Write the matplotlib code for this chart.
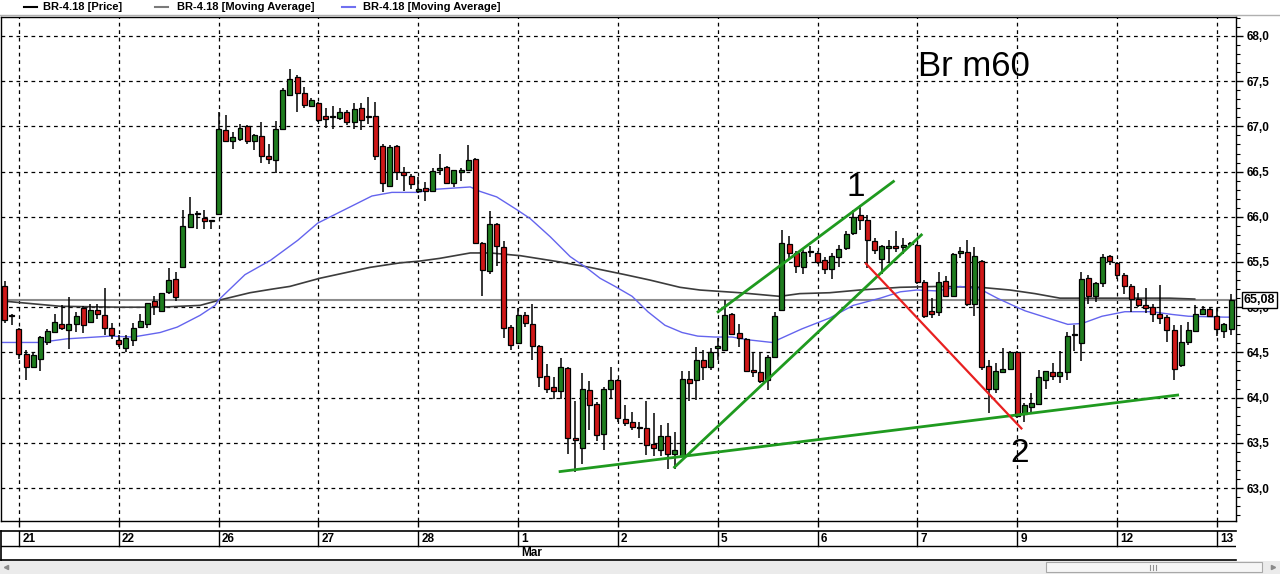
import matplotlib
matplotlib.use("Agg")
import matplotlib.pyplot as plt
from matplotlib.patches import Rectangle
from matplotlib.ticker import MultipleLocator, FuncFormatter, FixedLocator

# ---------------- data (hourly candles, 14 per session) ----------------
opens = [65.23, 64.90, 64.76, 64.48, 64.34, 64.43, 64.62, 64.73, 64.81, 64.75,
         64.81, 64.99, 64.84, 64.97, 64.91, 64.77, 64.64, 64.55, 64.64, 64.78,
         64.81, 65.07, 64.96, 65.17, 65.31, 65.45, 65.89, 66.03, 65.99, 65.95,
         66.03, 66.96, 66.84, 66.86, 67.00, 66.84, 66.89, 66.67, 66.63, 66.97,
         67.35, 67.55, 67.37, 67.23, 67.26, 67.11, 67.10, 67.09, 67.16, 67.05,
         67.20, 67.10, 67.12, 66.78, 66.34, 66.78, 66.50, 66.45, 66.29, 66.32,
         66.29, 66.52, 66.55, 66.37, 66.50, 66.52, 66.64, 65.71, 65.40, 65.92,
         65.67, 64.78, 64.60, 64.91, 64.81, 64.57, 64.24, 64.12, 64.07, 64.33,
         63.55, 63.44, 64.08, 63.93, 63.60, 64.10, 64.20, 63.76, 63.73, 63.68,
         63.66, 63.49, 63.42, 63.58, 63.38, 63.35, 64.21, 64.20, 64.42, 64.34,
         64.55, 64.53, 64.93, 64.72, 64.65, 64.31, 64.28, 64.19, 64.45, 64.97,
         65.70, 65.60, 65.45, 65.61, 65.60, 65.52, 65.42, 65.55, 65.66, 65.82,
         66.02, 65.97, 65.73, 65.53, 65.66, 65.68, 65.67, 65.70, 65.69, 65.28,
         64.96, 64.95, 65.29, 65.12, 65.60, 65.61, 65.03, 65.51, 64.35, 64.09,
         64.28, 64.32, 64.50, 63.82, 63.90, 63.93, 64.20, 64.28, 64.24, 64.28,
         64.69, 64.60, 65.32, 65.12, 65.27, 65.57, 65.49, 65.36, 65.23, 65.09,
         65.02, 65.00, 64.93, 64.89, 64.75, 64.36, 64.61, 64.74, 64.92, 64.98,
         64.90, 64.74, 64.76]
highs = [65.29, 64.93, 64.77, 64.53, 64.50, 64.68, 64.76, 64.92, 65.02, 65.11,
         64.95, 65.01, 65.04, 65.04, 65.21, 64.82, 64.69, 64.69, 64.83, 64.93,
         65.05, 65.12, 65.16, 65.43, 65.39, 66.08, 66.22, 66.06, 66.08, 65.97,
         67.16, 67.13, 66.94, 67.03, 67.02, 66.92, 67.05, 66.81, 67.06, 67.42,
         67.63, 67.57, 67.44, 67.31, 67.27, 67.20, 67.22, 67.20, 67.18, 67.26,
         67.26, 67.32, 67.27, 66.81, 66.79, 66.79, 66.55, 66.47, 66.44, 66.39,
         66.54, 66.69, 66.56, 66.52, 66.54, 66.79, 66.65, 65.72, 66.06, 65.93,
         65.73, 64.80, 64.99, 64.95, 65.04, 64.58, 64.37, 64.23, 64.44, 64.34,
         63.96, 64.27, 64.18, 63.95, 64.12, 64.34, 64.21, 63.92, 63.84, 63.73,
         63.96, 63.83, 63.70, 63.72, 63.62, 64.29, 64.29, 64.56, 64.53, 64.55,
         64.66, 65.08, 64.94, 64.81, 64.66, 64.50, 64.50, 64.47, 64.95, 65.85,
         65.79, 65.62, 65.63, 65.68, 65.62, 65.55, 65.60, 65.69, 65.84, 66.08,
         66.13, 66.02, 65.76, 65.69, 65.74, 65.84, 65.76, 65.72, 65.70, 65.30,
         65.10, 65.39, 65.34, 65.60, 65.67, 65.74, 65.67, 65.52, 64.42, 64.38,
         64.55, 64.52, 64.51, 63.94, 64.05, 64.31, 64.29, 64.38, 64.51, 64.73,
         64.80, 65.39, 65.36, 65.28, 65.59, 65.58, 65.50, 65.38, 65.26, 65.16,
         65.21, 65.04, 65.25, 64.91, 64.80, 64.80, 64.84, 65.02, 65.01, 64.99,
         64.99, 64.83, 65.15]
lows = [64.83, 64.80, 64.43, 64.20, 64.33, 64.29, 64.58, 64.71, 64.75, 64.54,
        64.73, 64.72, 64.82, 64.87, 64.69, 64.65, 64.56, 64.50, 64.57, 64.77,
        64.77, 64.91, 64.96, 65.15, 65.07, 65.44, 65.88, 65.87, 65.86, 65.87,
        66.02, 66.83, 66.75, 66.84, 66.81, 66.74, 66.59, 66.58, 66.48, 66.96,
        67.34, 67.16, 67.20, 67.22, 67.05, 66.98, 66.97, 67.07, 67.01, 66.97,
        66.96, 67.03, 66.63, 66.27, 66.34, 66.41, 66.28, 66.31, 66.26, 66.18,
        66.29, 66.46, 66.37, 66.33, 66.40, 66.51, 65.70, 65.12, 65.37, 65.46,
        64.66, 64.53, 64.59, 64.78, 64.42, 64.12, 64.05, 63.99, 63.98, 63.38,
        63.18, 63.26, 63.64, 63.52, 63.42, 63.99, 63.73, 63.69, 63.64, 63.55,
        63.37, 63.35, 63.35, 63.21, 63.21, 63.34, 63.96, 63.97, 64.19, 64.31,
        64.42, 64.52, 64.69, 64.56, 64.28, 64.23, 64.16, 64.08, 64.44, 64.96,
        65.53, 65.38, 65.37, 65.55, 65.48, 65.37, 65.31, 65.45, 65.63, 65.80,
        65.85, 65.43, 65.59, 65.37, 65.49, 65.61, 65.59, 65.68, 65.26, 64.88,
        64.88, 64.90, 65.11, 65.11, 65.54, 65.01, 64.90, 64.31, 63.83, 64.05,
        64.27, 64.31, 63.77, 63.73, 63.83, 63.93, 64.09, 64.20, 64.16, 64.19,
        64.52, 64.41, 65.04, 65.06, 65.22, 65.47, 65.31, 65.15, 64.95, 65.00,
        64.94, 64.84, 64.81, 64.62, 64.20, 64.34, 64.58, 64.73, 64.91, 64.89,
        64.68, 64.66, 64.69]
closes = [64.86, 64.91, 64.48, 64.34, 64.47, 64.67, 64.74, 64.84, 64.77, 64.81,
          64.90, 64.80, 64.97, 64.93, 64.77, 64.69, 64.59, 64.66, 64.77, 64.85,
          65.05, 65.01, 65.16, 65.30, 65.11, 65.90, 66.03, 66.04, 65.95, 65.96,
          66.97, 66.84, 66.88, 66.98, 66.84, 66.90, 66.67, 66.64, 66.97, 67.40,
          67.52, 67.37, 67.24, 67.29, 67.07, 67.08, 67.12, 67.16, 67.05, 67.19,
          67.07, 67.11, 66.67, 66.37, 66.77, 66.50, 66.46, 66.36, 66.31, 66.28,
          66.51, 66.54, 66.37, 66.52, 66.52, 66.63, 65.71, 65.41, 65.92, 65.68,
          64.77, 64.58, 64.91, 64.82, 64.57, 64.23, 64.10, 64.07, 64.34, 63.55,
          63.53, 64.10, 63.92, 63.59, 64.10, 64.20, 63.77, 63.72, 63.68, 63.66,
          63.48, 63.44, 63.58, 63.38, 63.42, 64.21, 64.16, 64.42, 64.34, 64.50,
          64.57, 64.91, 64.70, 64.66, 64.29, 64.28, 64.18, 64.45, 64.90, 65.71,
          65.60, 65.46, 65.61, 65.62, 65.50, 65.42, 65.57, 65.64, 65.81, 66.00,
          65.97, 65.74, 65.63, 65.68, 65.68, 65.66, 65.69, 65.71, 65.28, 64.90,
          64.93, 65.28, 65.12, 65.59, 65.62, 65.03, 65.57, 64.34, 64.09, 64.29,
          64.32, 64.50, 63.80, 63.92, 63.94, 64.23, 64.29, 64.24, 64.28, 64.68,
          64.70, 65.31, 65.12, 65.27, 65.55, 65.51, 65.36, 65.23, 65.09, 65.02,
          64.99, 64.92, 64.88, 64.75, 64.32, 64.62, 64.75, 64.93, 64.98, 64.90,
          64.76, 64.81, 65.08]

# moving averages (bar index, price)
ma_fast_x = [-0.5, 4.9, 8.7, 14.8, 18.0, 21.8, 24.2, 27.4, 29.5, 30.0, 33.7, 37.3,
             41.1, 43.9, 47.7, 51.5, 54.3, 58.0, 59.6, 65.3, 66.7, 69.0, 71.8, 73.7,
             76.5, 79.3, 81.7, 83.5, 85.6, 88.0, 90.2, 92.6, 95.0, 97.2, 99.6, 102.0,
             104.2, 107.6, 109.0, 111.8, 115.7, 119.0, 122.8, 125.6, 127.9, 130.8,
             134.0, 136.8, 139.2, 141.4, 143.1, 145.9, 149.1, 151.1, 153.9, 157.1,
             160.9, 163.7, 166.0, 171.1, 172.0]
ma_fast_y = [64.61, 64.61, 64.65, 64.68, 64.67, 64.72, 64.78, 64.91, 65.02, 65.08, 65.36, 65.52,
             65.74, 65.93, 66.08, 66.23, 66.27, 66.27, 66.30, 66.33, 66.28, 66.22, 66.08, 65.98,
             65.78, 65.56, 65.43, 65.32, 65.23, 65.12, 64.95, 64.80, 64.72, 64.68, 64.67, 64.67,
             64.64, 64.61, 64.66, 64.76, 64.88, 65.02, 65.10, 65.17, 65.19, 65.18,
             65.23, 65.20, 65.10, 65.02, 64.96, 64.89, 64.81, 64.82, 64.90, 64.95,
             64.95, 64.92, 64.90, 64.89, 64.89]
ma_slow_x = [-0.5, 7.8, 16.2, 21.8, 27.4, 30.2, 34.4, 37.5, 40.0, 44.2, 51.2, 55.4,
             58.2, 61.0, 65.3, 68.1, 72.3, 77.9, 82.1, 87.0, 90.5, 94.7, 97.5, 103.1,
             108.7, 111.5, 115.7, 119.9, 125.6, 131.2, 136.8, 141.0, 144.5, 148.0,
             153.6, 159.2, 163.4, 166.9]
ma_slow_y = [65.07, 65.01, 65.00, 65.00, 65.02, 65.08, 65.16, 65.20, 65.23, 65.32, 65.44, 65.49,
             65.51, 65.54, 65.60, 65.60, 65.57, 65.50, 65.44, 65.36, 65.30, 65.22, 65.19, 65.16,
             65.12, 65.15, 65.16, 65.19, 65.22, 65.23, 65.22, 65.19, 65.15, 65.10,
             65.10, 65.10, 65.10, 65.09]

last_price = 65.08

# hand drawn trend lines (bar index, price)
support_x, support_y = [77.7, 164.7], [63.18, 64.03]
chan_low_x, chan_low_y = [93.8, 128.7], [63.22, 65.81]
chan_high_x, chan_high_y = [99.9, 124.8], [64.94, 66.40]
red_x, red_y = [120.7, 142.7], [65.49, 63.65]

day_idx = [2, 16, 30, 44, 58, 72, 86, 100, 114, 128, 142, 156, 170]
day_labels = ["21", "22", "26", "27", "28", "1", "2", "5", "6", "7", "9", "12", "13"]

GREEN = "#1f7d1f"
RED = "#d01818"
W, H = 1280, 574
FONT = "Liberation Sans"


def px_rect(x0, y0, x1, y1):
    return [x0 / W, 1 - y1 / H, (x1 - x0) / W, (y1 - y0) / H]


fig = plt.figure(figsize=(12.8, 5.74), dpi=100)
fig.patch.set_facecolor("white")

# ---------- window chrome (legend strip, scrollbar) ----------
chrome = fig.add_axes([0, 0, 1, 1], zorder=0)
chrome.set_xlim(0, W)
chrome.set_ylim(H, 0)
chrome.axis("off")
chrome.plot([0, W], [14.5, 14.5], color="#b0b0b0", lw=1)
legend_items = [(24, 37, 43, "#000000", "BR-4.18 [Price]"),
                (155, 168, 177, "#7a7a7a", "BR-4.18 [Moving Average]"),
                (342, 355, 363, "#7070f0", "BR-4.18 [Moving Average]")]
for x0, x1, tx, col, lab in legend_items:
    chrome.plot([x0, x1], [6.5, 6.5], color=col, lw=1.5)
    chrome.text(tx, 7, lab, fontsize=8, family=FONT, weight="bold", va="center", ha="left")
chrome.add_patch(Rectangle((0, 561), W, 13, facecolor="#ebebeb", edgecolor="none"))
chrome.add_patch(Rectangle((1046, 562), 216, 10, facecolor="#f6f6f6", edgecolor="#a8a8a8", lw=0.8))
for gx in (1150, 1153, 1156):
    chrome.plot([gx, gx], [564.5, 569.5], color="#909090", lw=0.8)
chrome.plot([6], [567], marker="<", ms=3, color="#8a8a8a")
chrome.plot([1273], [567], marker=">", ms=3, color="#8a8a8a")

# ---------- main price panel ----------
ax = fig.add_axes(px_rect(1, 17, 1236, 521), zorder=2)
ax.set_facecolor("white")
ax.set_xlim(-0.52, 172.69)
ax.set_ylim(62.635, 68.21)

ax.xaxis.set_major_locator(FixedLocator(day_idx))
ax.set_xticklabels([])
ax.yaxis.set_major_locator(MultipleLocator(0.5))
ax.yaxis.set_minor_locator(MultipleLocator(0.1))
ax.yaxis.tick_right()
ax.yaxis.set_major_formatter(FuncFormatter(lambda v, p: f"{v:.1f}".replace(".", ",")))
ax.tick_params(axis="y", which="major", direction="out", length=5, width=1, pad=3,
               labelsize=8.5)
ax.tick_params(axis="y", which="minor", direction="out", length=3, width=0.8)
ax.tick_params(axis="x", direction="out", length=4, width=1)
for lab in ax.get_yticklabels():
    lab.set_family(FONT)
    lab.set_weight("bold")
ax.grid(True, which="major", color="black", lw=0.9, linestyle=(0, (3, 3)), zorder=0)
ax.set_axisbelow(True)
for sp in ax.spines.values():
    sp.set_color("black")
    sp.set_linewidth(1)

ax.axhline(last_price, color="#8c8c8c", lw=1.5, zorder=1)
ax.plot(ma_slow_x, ma_slow_y, color="#3c3c3c", lw=1.2, zorder=2)
ax.plot(ma_fast_x, ma_fast_y, color="#6464ee", lw=1.0, zorder=2)

idx = list(range(len(opens)))
bottoms = [min(o, c) for o, c in zip(opens, closes)]
heights = [max(abs(c - o), 0.008) for o, c in zip(opens, closes)]
colors = [GREEN if c >= o else RED for o, c in zip(opens, closes)]
ax.vlines(idx, lows, highs, colors="black", lw=1.1, zorder=3)
ax.bar(idx, heights, width=0.7, bottom=bottoms, color=colors, edgecolor="black",
       linewidth=0.9, zorder=4)

ax.plot(support_x, support_y, color="#1f9a1f", lw=2, zorder=5, solid_capstyle="butt")
ax.plot(chan_low_x, chan_low_y, color="#1f9a1f", lw=2, zorder=5, solid_capstyle="butt")
ax.plot(chan_high_x, chan_high_y, color="#1f9a1f", lw=2, zorder=5, solid_capstyle="butt")
ax.plot(red_x, red_y, color="#e82020", lw=1.6, zorder=5, solid_capstyle="butt")

ax.text(119.4, 66.23, "1", fontsize=24, family=FONT, ha="center", va="baseline", zorder=6)
ax.text(142.3, 63.29, "2", fontsize=24, family=FONT, ha="center", va="baseline", zorder=6)
ax.text(128.1, 67.56, "Br m60", fontsize=25, family=FONT, ha="left", va="baseline", zorder=6)

# last price badge on the price scale
ax.text(1.006, last_price, "65,08", transform=ax.get_yaxis_transform(), fontsize=9,
        family=FONT, weight="bold", ha="left", va="center", zorder=10, clip_on=False,
        bbox=dict(boxstyle="square,pad=0.15", facecolor="white", edgecolor="black", lw=1))

# ---------- date scale ----------
dax = fig.add_axes(px_rect(1, 531, 1236, 560), zorder=2)
dax.set_xlim(-0.52, 172.69)
dax.set_ylim(0, 2)
dax.set_xticks([])
dax.set_yticks([])
dax.spines["right"].set_visible(False)
for sp in ("top", "bottom", "left"):
    dax.spines[sp].set_linewidth(1.2)
dax.axhline(1, color="black", lw=1)
for d, lab in zip(day_idx, day_labels):
    dax.plot([d, d], [1, 2], color="black", lw=1)
    dax.text(d + 0.45, 1.48, lab, fontsize=8.5, family=FONT, weight="bold",
             ha="left", va="center")
dax.text(72 + 0.45, 0.48, "Mar", fontsize=8.5, family=FONT, weight="bold",
         ha="left", va="center")

fig.savefig("out.png", dpi=100)
